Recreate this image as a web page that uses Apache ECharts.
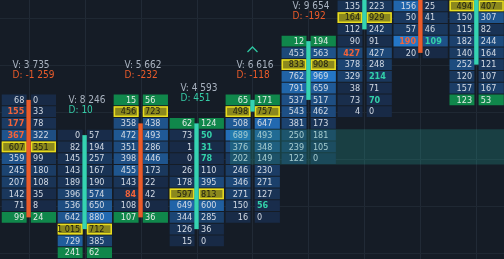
<!DOCTYPE html>
<html>
<head>
<meta charset="utf-8">
<script src="https://cdn.jsdelivr.net/npm/echarts@6/dist/echarts.min.js"></script>
<style>
html,body{margin:0;padding:0;background:#151c26;}
#chart{width:504px;height:259px;}
</style>
</head>
<body>
<div id="chart"></div>
<script>
// footprint columns, left to right. rows are listed from topLevel downwards
var topLevel = [13, 10, 13, 11, 13, 18, 21, 21, 21];
var bidVol = [
    [68, 155, 177, 367, 607, 359, 245, 207, 142, 71, 99],
    [0, 82, 145, 143, 189, 396, 536, 642, 1015, 729, 241],
    [15, 456, 358, 472, 351, 398, 455, 143, 84, 108, 107],
    [62, 73, 1, 0, 26, 178, 597, 649, 344, 126, 15],
    [65, 498, 508, 689, 376, 202, 246, 346, 271, 150, 16],
    [12, 453, 833, 762, 791, 537, 543, 381, 250, 239, 122],
    [135, 164, 112, 90, 427, 378, 329, 38, 73, 4],
    [156, 50, 57, 190, 20],
    [494, 150, 115, 182, 140, 252, 120, 157, 123]
];
var askVol = [
    [0, 33, 78, 322, 351, 99, 180, 108, 35, 8, 24],
    [57, 194, 257, 167, 190, 574, 650, 880, 712, 385, 62],
    [56, 723, 438, 493, 286, 446, 173, 22, 42, 0, 36],
    [124, 50, 31, 78, 110, 395, 813, 600, 285, 36, 0],
    [171, 757, 647, 493, 348, 149, 230, 271, 127, 56, 0],
    [194, 563, 908, 969, 659, 517, 462, 173, 181, 105, 0],
    [223, 929, 242, 91, 427, 248, 214, 71, 70, 0],
    [25, 41, 46, 109, 0],
    [407, 307, 82, 244, 164, 121, 107, 167, 53]
];
var openLevel  = [13, 2, 11, 2, 12, 13, 19, 23, 16];
var closeLevel = [3, 10, 3, 11, 13, 18, 23, 17, 23];
var pocLevel   = [9, 2, 12, 5, 12, 16, 20, 22, 21];
var greenLevels = [[3], [0], [13, 3], [11], [13], [18], [], [], [13]];
var arrowCols = [4];
var zoneFrom = 3.6;
var zoneLevels = [8, 10];
var gridLevels = [20, 16, 12, 8, 4, 0];
var imbalanceRatio = 3;

var UP = '#35d3b2', DOWN = '#ea5b2a';
var FONT = '"Liberation Sans Narrow", "DejaVu Sans Condensed", sans-serif';

function fmt(n) {
    return String(n).replace(/\B(?=(\d{3})+(?!\d))/g, ' ');
}
function cellBg(v, max) {
    var t = Math.min(1, Math.pow(v / max, 1.2));
    var a = [24, 42, 70], b = [36, 118, 198];
    var c = a.map(function (x, j) { return Math.round(x + (b[j] - x) * t); });
    return 'rgb(' + c.join(',') + ')';
}

var chart = echarts.init(document.getElementById('chart'));

function renderGrid(params, api) {
    var cs = params.coordSys;
    var kids = [];
    for (var i = 0; i < bidVol.length; i++) {
        var x = Math.round(api.coord([i, 0])[0]) + 0.5;
        kids.push({type: 'line', shape: {x1: x, y1: cs.y, x2: x, y2: cs.y + cs.height},
            style: {stroke: '#212a36', lineWidth: 1}});
    }
    gridLevels.forEach(function (l) {
        var y = Math.round(api.coord([0, l])[1]) + 0.5;
        kids.push({type: 'line', shape: {x1: cs.x, y1: y, x2: cs.x + cs.width, y2: y},
            style: {stroke: '#1f2833', lineWidth: 1}});
    });
    return {type: 'group', children: kids};
}

function renderColumn(params, api) {
    var i = api.value(0);
    var bids = bidVol[i], asks = askVol[i];
    var size = api.size([1, 1]);
    var cw = size[0], rh = size[1];
    var cx = api.coord([i, 0])[0];
    var colMax = Math.max.apply(null, bids.concat(asks));
    var kids = [];
    var texts = [];
    for (var r = 0; r < bids.length; r++) {
        var lvl = topLevel[i] - r;
        var cy = api.coord([i, lvl])[1];
        var y = cy - rh / 2 + 0.5, h = rh - 1;
        var poc = lvl === pocLevel[i];
        var green = greenLevels[i].indexOf(lvl) >= 0;
        var cells = [
            {x: cx - 0.48 * cw, w: 0.445 * cw, v: bids[r], tx: cx - 0.077 * cw, al: 'right',
             imb: r > 0 && bids[r] > 0 && bids[r] >= imbalanceRatio * asks[r - 1], imbColor: '#f2633a'},
            {x: cx + 0.04 * cw, w: 0.45 * cw, v: asks[r], tx: cx + 0.08 * cw, al: 'left',
             imb: r < bids.length - 1 && asks[r] > 0 && asks[r] >= imbalanceRatio * bids[r + 1], imbColor: '#33d1a9'}
        ];
        cells.forEach(function (c) {
            var fill = poc ? '#8b881d' : (green ? '#10874b' : cellBg(c.v, colMax));
            kids.push({type: 'rect', shape: {x: c.x, y: y, width: c.w, height: h},
                style: {fill: fill}});
            if (poc) {
                kids.push({type: 'rect', shape: {x: c.x + 0.75, y: y + 0.75, width: c.w - 1.5, height: h - 1.5},
                    style: {fill: null, stroke: '#e8dc1f', lineWidth: 1.5}});
            }
            var color = '#d3dae4', weight = 'normal';
            if (poc) color = '#1d1d12';
            else if (green) color = '#e2ece6';
            else if (c.imb) { color = c.imbColor; weight = 'bold'; }
            texts.push({type: 'text', style: {x: c.tx, y: cy + 0.5, text: fmt(c.v), fill: color,
                font: weight + ' 9px ' + FONT, align: c.al, verticalAlign: 'middle'}});
        });
    }
    // candle body
    var y1 = api.coord([i, openLevel[i]])[1], y2 = api.coord([i, closeLevel[i]])[1];
    kids.push({type: 'rect', shape: {x: cx - 2.2, y: Math.min(y1, y2), width: 4.4, height: Math.abs(y2 - y1)},
        style: {fill: closeLevel[i] >= openLevel[i] ? UP : DOWN}});
    kids = kids.concat(texts);

    // volume / delta labels
    var total = 0, delta = 0;
    for (var k = 0; k < bids.length; k++) { total += bids[k] + asks[k]; delta += asks[k] - bids[k]; }
    var yTop = api.coord([i, topLevel[i] + 0.5])[1];
    kids.push({type: 'text', style: {x: cx - 16, y: yTop - 29, text: 'V: ' + fmt(total), fill: '#a9b3c0',
        font: '10px ' + FONT, align: 'left', verticalAlign: 'middle'}});
    kids.push({type: 'text', style: {x: cx - 16, y: yTop - 19, text: 'D: ' + fmt(delta),
        fill: delta < 0 ? DOWN : '#35c9a5', font: '10px ' + FONT, align: 'left', verticalAlign: 'middle'}});
    if (arrowCols.indexOf(i) >= 0) {
        var ay = yTop - 29 - 13;
        kids.push({type: 'polyline', shape: {points: [[cx - 5, ay], [cx, ay - 5], [cx + 5, ay]]},
            style: {stroke: '#2ec4a0', lineWidth: 1.3, fill: null}});
    }
    return {type: 'group', children: kids};
}

function renderZone(params, api) {
    var cs = params.coordSys;
    var p1 = api.coord([api.value(0), api.value(2) + 0.5]);
    var p2 = api.coord([api.value(0), api.value(1) - 0.5]);
    return {type: 'rect', shape: {x: p1[0], y: p1[1], width: cs.x + cs.width - p1[0], height: p2[1] - p1[1]},
        style: {fill: 'rgba(40,168,150,0.26)'}};
}

var colIdx = bidVol.map(function (d, i) { return [i]; });
var P = 55.97;

var option = {
    backgroundColor: '#151c26',
    animation: false,
    grid: {left: 0, right: 0, top: 0, bottom: 0},
    xAxis: {type: 'value', min: -28.6 / P, max: (504 - 28.6) / P, show: false},
    yAxis: {type: 'value', min: 21.5 - 259 / 11.75, max: 21.5, show: false},
    series: [
        {type: 'custom', z: 1, renderItem: renderGrid, data: [[0]], silent: true},
        {type: 'custom', z: 2, renderItem: renderColumn, data: colIdx, silent: true},
        {type: 'custom', z: 3, renderItem: renderZone, data: [[zoneFrom, zoneLevels[0], zoneLevels[1]]], silent: true}
    ]
};
chart.setOption(option, true);
</script>
</body>
</html>
